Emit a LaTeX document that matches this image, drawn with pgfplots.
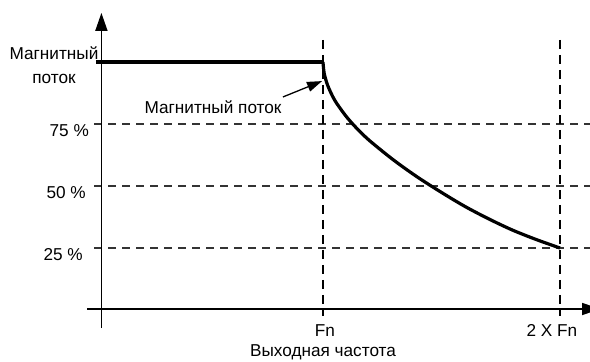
\documentclass[border=0pt]{standalone}
\usepackage{pgfplots}
\pgfplotsset{compat=1.18}
\usetikzlibrary{arrows.meta}
\usepackage{fontspec}
\setmainfont{Liberation Sans}

\begin{document}
\fontsize{17.2bp}{24bp}\selectfont
\begin{tikzpicture}[lbl/.style={inner sep=0pt}]
\begin{axis}[
    scale only axis,
    width=590bp, height=362bp,
    xmin=-0.3629, xmax=2.1266,
    ymin=-20.97, ymax=125.0,
    hide axis,
    clip=false,
]
% guide lines
\addplot[black!80, line width=1.3bp, dash pattern=on 8bp off 6bp] coordinates {(0.0338,75) (2.127,75)};
\addplot[black!80, line width=1.3bp, dash pattern=on 8bp off 6bp] coordinates {(0.0338,50) (2.127,50)};
\addplot[black!80, line width=1.3bp, dash pattern=on 8bp off 6bp] coordinates {(0.0338,25) (2.127,25)};
\addplot[black, line width=1.3bp, dash pattern=on 9bp off 6bp] coordinates {(1,108.9) (1,-2.4)};
\addplot[black, line width=1.3bp, dash pattern=on 9bp off 6bp] coordinates {(2,108.9) (2,-2.4)};

% axes
\addplot[black, line width=1.7bp, -{Triangle[length=18bp,width=12bp]}] coordinates {(0.065,-7.3) (0.065,119.8)};
\addplot[black, line width=1.7bp, -{Triangle[length=18bp,width=12bp]}] coordinates {(0.0042,0.4) (2.169,0.4)};

% flux: constant up to Fn
\addplot[black, line width=3.5bp] coordinates {(0.042,100) (1.0,100)};
% field weakening above Fn
\addplot[black, line width=3.2bp, smooth] coordinates {
    (1.000,100) (1.005,95.5) (1.020,90.5) (1.050,84.5) (1.100,77.8)
    (1.150,72.5) (1.200,68.0) (1.300,60.3) (1.400,53.5) (1.500,47.4)
    (1.600,41.7) (1.700,36.7) (1.800,32.2) (1.900,28.4) (2.000,25.0)
};

% annotation
\addplot[black, line width=1.3bp, -{Triangle[length=15bp,width=10bp]}] coordinates {(0.831,85.9) (0.996,92.3)};
\node[lbl, anchor=center] at (axis cs:0.536,81.9) {Магнитный поток};

% labels
\node[lbl, anchor=base] at (axis cs:-0.135,101.2) {Магнитный};
\node[lbl, anchor=base] at (axis cs:-0.135,91.5) {поток};
\node[lbl, anchor=north east] at (axis cs:0.0127,75) {75 \%};
\node[lbl, anchor=north east] at (axis cs:0.0,50) {50 \%};
\node[lbl, anchor=north east] at (axis cs:-0.0127,25) {25 \%};
\node[lbl, anchor=base] at (axis cs:1.008,-10.5) {Fn};
\node[lbl, anchor=base] at (axis cs:1.966,-10.5) {2 X Fn};
\node[lbl, anchor=base] at (axis cs:1.0,-18.9) {Выходная частота};
\end{axis}
\pgfresetboundingbox
\path[use as bounding box] (current axis.south west) rectangle (current axis.north east);
\end{tikzpicture}
\end{document}
